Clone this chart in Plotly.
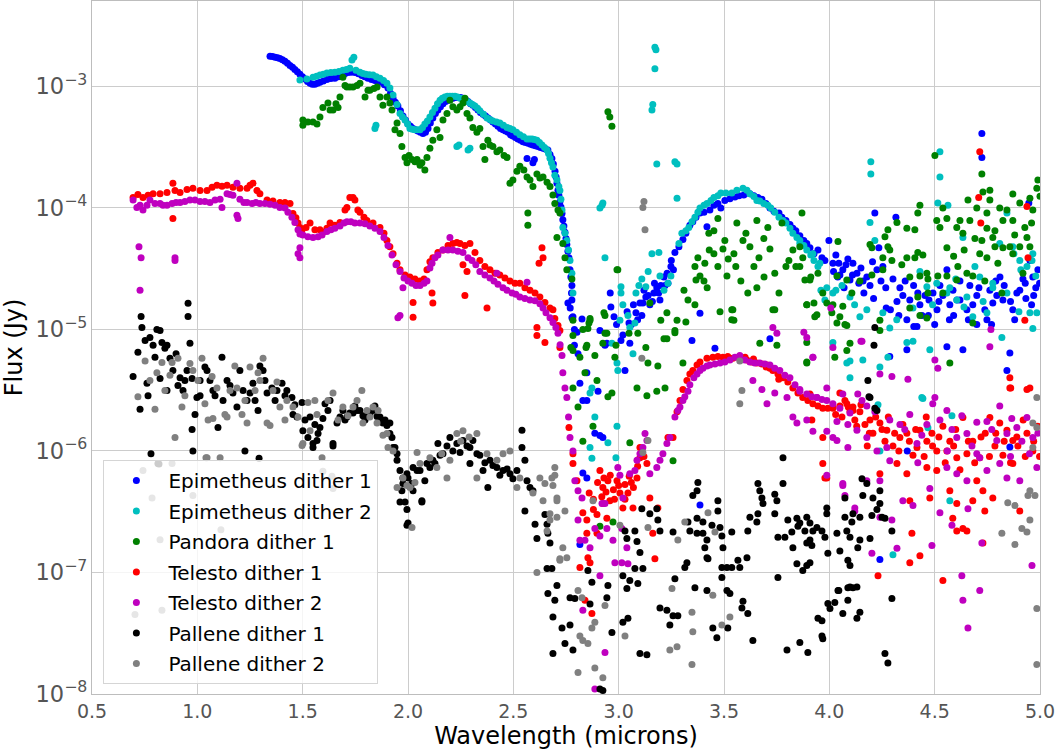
import plotly.graph_objects as go

# Spectra of small Saturnian moons: (wavelength in microns, flux in Jy)

EPIMETHEUS_1 = [
    (1.345, 1.77e-3), (1.357, 1.76e-3), (1.369, 1.74e-3), (1.381, 1.72e-3), (1.392, 1.70e-3),
    (1.404, 1.66e-3), (1.416, 1.61e-3), (1.428, 1.55e-3), (1.440, 1.49e-3), (1.452, 1.44e-3),
    (1.463, 1.38e-3), (1.475, 1.32e-3), (1.487, 1.26e-3), (1.499, 1.20e-3), (1.511, 1.15e-3),
    (1.523, 1.10e-3), (1.535, 1.06e-3), (1.546, 1.04e-3), (1.558, 1.04e-3), (1.570, 1.06e-3),
    (1.582, 1.08e-3), (1.598, 1.11e-3), (1.615, 1.14e-3), (1.634, 1.16e-3), (1.653, 1.17e-3),
    (1.670, 1.20e-3), (1.687, 1.23e-3), (1.700, 1.27e-3), (1.715, 1.30e-3), (1.730, 1.31e-3),
    (1.748, 1.30e-3), (1.765, 1.27e-3), (1.781, 1.23e-3), (1.795, 1.20e-3), (1.810, 1.17e-3),
    (1.827, 1.14e-3), (1.843, 1.12e-3), (1.857, 1.10e-3), (1.872, 1.08e-3), (1.888, 1.03e-3),
    (1.905, 0.97e-3), (1.917, 0.88e-3), (1.929, 0.80e-3), (1.940, 0.74e-3), (1.952, 0.69e-3),
    (1.964, 0.63e-3), (1.976, 0.57e-3), (1.988, 0.53e-3), (2.000, 0.49e-3), (2.012, 0.47e-3),
    (2.024, 0.45e-3), (2.035, 0.44e-3), (2.047, 0.43e-3), (2.059, 0.42e-3), (2.071, 0.41e-3),
    (2.083, 0.42e-3), (2.095, 0.45e-3), (2.106, 0.50e-3), (2.118, 0.55e-3), (2.130, 0.60e-3),
    (2.142, 0.64e-3), (2.154, 0.68e-3), (2.166, 0.72e-3), (2.178, 0.75e-3), (2.190, 0.77e-3),
    (2.201, 0.79e-3), (2.213, 0.80e-3), (2.225, 0.81e-3), (2.237, 0.81e-3), (2.249, 0.81e-3),
    (2.261, 0.80e-3), (2.273, 0.78e-3), (2.285, 0.75e-3), (2.297, 0.72e-3), (2.308, 0.70e-3),
    (2.320, 0.67e-3), (2.332, 0.64e-3), (2.344, 0.61e-3), (2.356, 0.59e-3), (2.368, 0.57e-3),
    (2.380, 0.55e-3), (2.392, 0.53e-3), (2.403, 0.51e-3), (2.415, 0.49e-3), (2.427, 0.47e-3),
    (2.439, 0.45e-3), (2.451, 0.44e-3), (2.463, 0.43e-3), (2.475, 0.42e-3), (2.487, 0.40e-3),
    (2.498, 0.39e-3), (2.510, 0.38e-3), (2.522, 0.37e-3), (2.534, 0.36e-3), (2.546, 0.35e-3),
    (2.558, 0.345e-3), (2.570, 0.34e-3), (2.582, 0.335e-3), (2.593, 0.33e-3), (2.605, 0.325e-3),
    (2.617, 0.32e-3), (2.629, 0.315e-3), (2.641, 0.31e-3), (2.652, 0.305e-3), (2.664, 0.30e-3),
    (2.674, 0.275e-3), (2.683, 0.255e-3), (2.690, 0.23e-3), (2.698, 0.20e-3), (2.703, 0.18e-3),
    (2.707, 0.16e-3), (2.712, 0.14e-3), (2.716, 0.127e-3), (2.721, 0.112e-3), (2.726, 1.02e-4),
    (2.731, 9.0e-5), (2.735, 8.0e-5), (2.740, 7.1e-5), (2.745, 6.3e-5), (2.750, 5.6e-5),
    (2.754, 5.0e-5), (2.759, 4.4e-5), (2.764, 3.9e-5), (2.769, 3.1e-5), (2.773, 2.7e-5),
    (2.778, 2.3e-5), (2.776, 2.0e-5), (2.778, 1.75e-5), (2.770, 1.5e-5), (2.778, 1.25e-5),
    (2.783, 1.27e-5), (2.790, 1.0e-5), (2.802, 9.5e-6), (2.790, 7.4e-6), (2.807, 6.3e-6),
    (2.759, 1.65e-5), (2.826, 1.22e-5), (2.816, 3.6e-6), (2.849, 2.6e-6), (2.902, 3.1e-6),
    (2.849, 4.4e-6), (2.830, 2.6e-6), (2.911, 1.34e-6), (2.887, 1.4e-6), (2.925, 1.29e-6),
    (2.830, 6.6e-7), (2.816, 1.7e-7), (2.849, 6.0e-7),
    (2.565, 2.55e-4), (2.593, 2.35e-4), (2.600, 2.5e-4),
    (2.911, 9.8e-6), (2.935, 7.4e-6), (2.963, 1.53e-5), (2.978, 1.27e-5), (2.944, 7.7e-6),
    (3.011, 8.1e-6), (3.030, 4.6e-6), (3.049, 1.13e-5), (3.053, 7.7e-6), (3.082, 1.37e-5),
    (3.101, 1.65e-5), (3.115, 1.65e-5), (3.129, 1.85e-5), (3.148, 1.6e-5), (3.167, 2.0e-5),
    (3.181, 2.2e-5), (3.196, 1.75e-5), (3.215, 2.7e-5), (3.234, 2.4e-5), (3.248, 3.3e-5),
    (2.960, 2.0e-5), (2.990, 1.1e-5), (3.020, 9.0e-6), (3.040, 1.4e-5), (3.060, 1.1e-5),
    (3.070, 1.6e-5), (3.090, 1.2e-5), (3.110, 1.3e-5), (3.120, 2.1e-5), (3.140, 1.9e-5),
    (3.160, 1.7e-5), (3.170, 2.4e-5), (3.190, 2.0e-5), (3.200, 2.3e-5), (3.220, 2.3e-5),
    (3.230, 2.9e-5), (3.250, 3.7e-5), (3.260, 3.1e-5),
    (3.267, 4.3e-5), (3.286, 4.8e-5), (3.305, 5.5e-5), (3.319, 6.2e-5), (3.338, 7.2e-5),
    (3.352, 7.7e-5), (3.367, 8.4e-5), (3.386, 9.1e-5), (3.405, 9.2e-5), (3.419, 7.0e-5),
    (3.433, 9.6e-5), (3.452, 1.05e-4), (3.471, 1.09e-4), (3.485, 1.0e-4), (3.504, 1.15e-4),
    (3.528, 1.19e-4), (3.552, 1.23e-4), (3.571, 1.26e-4), (3.594, 1.28e-4), (3.623, 1.31e-4),
    (3.642, 1.26e-4), (3.661, 1.22e-4), (3.680, 1.18e-4), (3.699, 1.09e-4), (3.718, 1.0e-4),
    (3.737, 9.4e-5), (3.761, 9.1e-5), (3.775, 8.4e-5), (3.794, 7.9e-5), (3.813, 7.3e-5),
    (3.827, 6.8e-5), (3.841, 6.5e-5), (3.860, 5.9e-5), (3.879, 5.4e-5), (3.893, 5.1e-5),
    (3.908, 4.7e-5), (3.927, 4.2e-5), (3.946, 4.5e-5), (3.965, 3.9e-5), (3.979, 3.7e-5),
    (3.998, 5.4e-5), (4.017, 3.5e-5), (4.031, 4.1e-5), (4.045, 3.5e-5), (4.064, 3.1e-5),
    (4.079, 3.4e-5), (4.098, 2.55e-5), (4.112, 3.5e-5), (4.131, 2.9e-5), (4.150, 3.2e-5),
    (4.164, 2.0e-5), (4.178, 2.7e-5), (4.193, 2.3e-5), (4.216, 9.1e-5), (4.226, 3.1e-5),
    (4.235, 4.7e-5), (4.254, 3.3e-5), (4.268, 2.2e-5), (4.287, 6.0e-6), (4.302, 2.6e-5),
    (4.316, 8.4e-5), (4.321, 1.7e-5), (4.335, 2.2e-5), (4.349, 1.9e-5), (4.368, 1.2e-5),
    (4.368, 6.8e-6), (4.382, 1.75e-5), (4.401, 1.06e-5), (4.416, 1.06e-5), (4.430, 1.6e-5),
    (4.454, 1.9e-5), (4.473, 1.75e-5), (4.492, 2.0e-5), (4.511, 1.45e-5), (4.525, 2.3e-5),
    (4.539, 1.9e-5), (4.558, 3.1e-5), (4.558, 7.2e-6), (4.572, 1.6e-5), (4.587, 2.1e-5),
    (4.606, 1.75e-5), (4.620, 1.75e-5), (4.634, 6.8e-6), (4.653, 1.45e-5), (4.667, 2.3e-5),
    (4.681, 1.6e-5), (4.700, 1.9e-5), (4.724, 4.1e-4), (4.724, 2.6e-4), (4.738, 1.45e-5),
    (4.748, 1.2e-5), (4.762, 2.1e-5), (4.776, 1.65e-5), (4.795, 1.9e-5), (4.810, 2.7e-5),
    (4.824, 1.75e-5), (4.843, 4.6e-6), (4.857, 6.4e-6), (4.871, 1.45e-5), (4.890, 2.0e-5),
    (4.904, 2.1e-5), (4.919, 2.6e-5), (4.933, 1.8e-5), (4.947, 1.1e-4), (4.952, 3.7e-5),
    (4.966, 2.7e-5), (4.980, 2.2e-5), (4.990, 3.1e-5),
    (3.348, 8.1e-6), (3.457, 7.0e-6), (3.718, 8.4e-6), (3.386, 1.36e-5), (3.386, 3.6e-7),
    (4.240, 1.28e-7), (4.370, 1.0e-6), (4.857, 1.08e-6),
    (4.050, 2.8e-5), (4.088, 3.8e-5), (4.140, 2.4e-5), (4.205, 3.6e-5), (4.245, 2.5e-5),
    (4.290, 1.45e-5), (4.400, 2.3e-5), (4.440, 1.3e-5), (4.500, 1.1e-5), (4.590, 1.3e-5),
    (4.700, 1.1e-5), (4.790, 2.5e-5), (4.880, 1.2e-5), (4.960, 1.6e-5),
    (4.020, 3.0e-5), (4.040, 2.7e-5), (4.070, 2.2e-5), (4.110, 2.8e-5), (4.160, 2.5e-5),
    (4.210, 1.8e-5), (4.270, 1.5e-5), (4.330, 1.3e-5), (4.360, 2.5e-5), (4.420, 2.0e-5),
    (4.470, 1.3e-5), (4.520, 1.7e-5), (4.570, 1.2e-5), (4.620, 2.5e-5), (4.660, 1.2e-5),
    (4.710, 2.2e-5), (4.770, 1.1e-5), (4.830, 2.3e-5), (4.860, 1.7e-5), (4.930, 2.4e-5),
    (4.970, 1.9e-5), (4.998, 2.4e-5),
]

EPIMETHEUS_2 = [
    (1.487, 1.13e-3), (1.520, 1.15e-3), (1.549, 1.19e-3), (1.566, 1.21e-3), (1.582, 1.24e-3),
    (1.598, 1.26e-3), (1.615, 1.29e-3), (1.634, 1.30e-3), (1.653, 1.31e-3), (1.672, 1.33e-3),
    (1.691, 1.36e-3), (1.708, 1.38e-3), (1.724, 1.41e-3), (1.734, 1.65e-3), (1.743, 1.74e-3),
    (1.753, 1.36e-3), (1.772, 1.31e-3), (1.786, 1.28e-3), (1.800, 1.26e-3), (1.817, 1.25e-3),
    (1.834, 1.24e-3), (1.850, 1.20e-3), (1.867, 1.17e-3), (1.884, 1.12e-3), (1.900, 1.06e-3),
    (1.914, 0.97e-3), (1.929, 0.85e-3), (1.948, 0.71e-3), (1.962, 0.60e-3), (1.974, 0.56e-3),
    (1.986, 0.53e-3), (1.998, 0.49e-3), (2.009, 0.45e-3), (2.021, 0.445e-3), (2.033, 0.44e-3),
    (2.045, 0.44e-3), (2.057, 0.44e-3), (2.069, 0.46e-3), (2.080, 0.49e-3), (2.092, 0.52e-3),
    (2.104, 0.56e-3), (2.116, 0.61e-3), (2.128, 0.66e-3), (2.140, 0.72e-3), (2.152, 0.77e-3),
    (2.163, 0.80e-3), (2.175, 0.82e-3), (2.187, 0.83e-3), (2.199, 0.83e-3), (2.211, 0.83e-3),
    (2.223, 0.83e-3), (2.235, 0.82e-3), (2.247, 0.80e-3), (2.258, 0.79e-3), (2.270, 0.77e-3),
    (2.282, 0.75e-3), (2.294, 0.73e-3), (2.306, 0.71e-3), (2.318, 0.69e-3), (2.330, 0.66e-3),
    (2.341, 0.63e-3), (2.358, 0.59e-3), (2.375, 0.55e-3), (2.389, 0.535e-3), (2.403, 0.52e-3),
    (2.420, 0.51e-3), (2.436, 0.50e-3), (2.453, 0.48e-3), (2.470, 0.46e-3), (2.484, 0.45e-3),
    (2.498, 0.44e-3), (2.515, 0.42e-3), (2.531, 0.40e-3), (2.548, 0.385e-3), (2.565, 0.37e-3),
    (2.577, 0.37e-3), (2.589, 0.37e-3), (2.600, 0.365e-3), (2.612, 0.36e-3), (2.624, 0.345e-3),
    (2.636, 0.33e-3), (2.648, 0.315e-3), (2.660, 0.30e-3), (2.667, 0.28e-3), (2.674, 0.256e-3),
    (2.681, 0.235e-3), (2.688, 0.217e-3), (2.697, 0.186e-3), (2.707, 0.17e-3), (2.716, 0.15e-3),
    (2.721, 0.139e-3), (2.726, 0.118e-3), (2.731, 0.96e-4), (2.735, 6.9e-5), (2.745, 6.2e-5),
    (2.754, 5.4e-5), (2.762, 4.5e-5), (2.769, 3.7e-5), (2.778, 2.9e-5), (2.783, 2.0e-5),
    (1.843, 0.45e-3), (1.848, 0.48e-3), (2.232, 0.32e-3), (2.242, 0.33e-3), (2.285, 0.30e-3),
    (2.294, 0.31e-3), (2.921, 1.05e-4), (2.911, 1.0e-4), (2.925, 1.1e-4), (2.935, 3.9e-5),
    (3.172, 2.1e-3), (3.177, 2.0e-3), (3.172, 1.4e-3), (3.162, 0.71e-3), (3.158, 0.64e-3),
    (3.181, 0.23e-3), (3.267, 0.24e-3), (3.277, 0.23e-3), (3.277, 1.2e-4), (4.197, 0.24e-3),
    (4.197, 0.19e-3), (4.525, 0.29e-3), (4.525, 0.18e-3),
    (2.864, 3.0e-6), (2.873, 3.3e-6), (2.887, 1.9e-6), (2.992, 5.3e-6), (2.996, 4.6e-6),
    (3.068, 6.3e-6), (3.053, 1.04e-5), (2.992, 1.6e-6), (2.949, 1.17e-6), (2.864, 1.07e-6),
    (2.873, 8.7e-7), (2.987, 8.8e-7), (2.968, 7.7e-6), (3.006, 1.19e-5), (3.044, 1.3e-5),
    (3.077, 1.13e-5), (3.011, 2.25e-5), (3.011, 2.0e-5), (3.020, 1.6e-5), (3.082, 2.0e-5),
    (3.096, 2.3e-5), (3.129, 2.25e-5), (3.158, 4.2e-5), (3.191, 4.3e-5), (3.196, 2.75e-5),
    (3.215, 2.1e-5), (3.234, 2.4e-5), (3.248, 2.75e-5), (3.110, 2.6e-5), (3.140, 3.0e-5),
    (3.286, 5.1e-5), (3.300, 6.2e-5), (3.319, 6.5e-5), (3.333, 6.9e-5), (3.348, 7.7e-5),
    (3.362, 8.4e-5), (3.376, 9.2e-5), (3.386, 1.0e-4), (3.405, 1.05e-4), (3.419, 1.09e-4),
    (3.438, 1.15e-4), (3.452, 1.22e-4), (3.471, 1.26e-4), (3.485, 1.33e-4), (3.509, 1.33e-4),
    (3.537, 1.33e-4), (3.561, 1.40e-4), (3.590, 1.45e-4), (3.609, 1.40e-4), (3.623, 1.31e-4),
    (3.642, 1.24e-4), (3.656, 1.15e-4), (3.670, 1.14e-4), (3.689, 1.09e-4), (3.708, 1.05e-4),
    (3.722, 1.0e-4), (3.741, 9.2e-5), (3.761, 8.4e-5), (3.780, 7.9e-5), (3.794, 7.5e-5),
    (3.813, 6.8e-5), (3.827, 6.2e-5), (3.846, 5.7e-5), (3.860, 5.4e-5), (3.879, 4.9e-5),
    (3.893, 4.5e-5), (3.912, 4.1e-5), (3.927, 3.7e-5), (3.946, 3.3e-5), (3.960, 2.1e-5),
    (3.979, 1.75e-5), (4.031, 2.1e-5), (3.860, 5.1e-5), (3.922, 4.2e-5), (3.955, 3.5e-5),
    (3.988, 2.2e-5), (4.017, 2.0e-5), (4.098, 1.85e-5), (4.145, 1.27e-5), (4.178, 1.45e-5),
    (4.254, 1.37e-5), (4.287, 1.03e-5), (4.397, 1.5e-5), (4.430, 3.0e-5), (4.463, 2.25e-5),
    (4.510, 2.4e-5), (4.558, 2.0e-5), (4.605, 1.75e-5), (4.653, 1.85e-5), (4.681, 1.27e-5),
    (4.714, 2.7e-5), (4.748, 1.37e-5), (4.776, 2.4e-5), (4.809, 5.1e-5), (4.843, 9.1e-5),
    (4.871, 4.8e-5), (4.904, 3.7e-5), (4.938, 3.3e-5), (4.966, 4.2e-5), (4.985, 1.37e-5),
    (4.952, 1.37e-5), (4.966, 1.02e-5), (4.819, 8.6e-6), (4.634, 5.7e-5), (4.098, 5.5e-6),
    (4.098, 4.0e-6), (4.368, 7.8e-6), (4.397, 8.0e-6), (4.477, 6.8e-6), (4.444, 2.7e-6),
    (4.240, 4.9e-6), (4.278, 5.9e-6), (4.017, 7.8e-6), (4.159, 5.6e-6), (4.515, 1.1e-4),
    (4.563, 1.05e-4), (4.193, 7.6e-5), (4.216, 5.4e-5), (4.083, 5.3e-6), (4.439, 2.75e-6),
    (4.231, 2.4e-6), (4.582, 1.95e-6), (4.468, 1.55e-6), (4.240, 1.0e-6), (4.572, 3.9e-7),
    (4.302, 1.4e-7), (4.572, 2.2e-5), (4.639, 1.53e-5), (4.691, 3.3e-5), (4.776, 2.2e-5),
    (4.843, 2.0e-5), (4.876, 4.2e-5), (4.909, 3.1e-5), (4.962, 3.7e-5), (4.980, 2.75e-5),
    (4.060, 2.3e-5), (4.120, 1.6e-5), (4.320, 1.2e-5), (4.490, 1.6e-5), (4.600, 2.6e-5),
    (4.730, 1.7e-5), (4.900, 1.4e-5),
]

PANDORA_1 = [
    (1.501, 0.53e-3), (1.501, 0.48e-3), (1.525, 0.51e-3), (1.549, 0.51e-3), (1.568, 0.49e-3),
    (1.582, 0.56e-3), (1.596, 0.67e-3), (1.620, 0.73e-3), (1.630, 0.64e-3), (1.644, 0.64e-3),
    (1.658, 0.72e-3), (1.668, 0.67e-3), (1.677, 0.82e-3), (1.691, 1.19e-3), (1.701, 1.02e-3),
    (1.710, 0.99e-3), (1.724, 0.99e-3), (1.739, 0.99e-3), (1.758, 1.02e-3), (1.772, 1.06e-3),
    (1.796, 0.82e-3), (1.810, 0.93e-3), (1.819, 0.93e-3), (1.838, 0.96e-3), (1.853, 0.99e-3),
    (1.867, 0.82e-3), (1.881, 0.70e-3), (1.900, 0.82e-3), (1.914, 0.73e-3), (1.924, 0.64e-3),
    (1.938, 0.44e-3), (1.948, 0.50e-3), (1.962, 0.41e-3), (1.971, 0.32e-3), (1.986, 0.26e-3),
    (1.995, 0.235e-3), (2.005, 0.27e-3), (2.019, 0.25e-3), (2.033, 0.24e-3), (2.043, 0.25e-3),
    (2.057, 0.225e-3), (2.066, 0.235e-3), (2.080, 0.205e-3), (2.090, 0.26e-3), (2.104, 0.31e-3),
    (2.118, 0.36e-3), (2.137, 0.44e-3), (2.152, 0.38e-3), (2.166, 0.53e-3), (2.185, 0.60e-3),
    (2.199, 0.77e-3), (2.213, 0.68e-3), (2.232, 0.64e-3), (2.247, 0.68e-3), (2.261, 0.73e-3),
    (2.270, 0.80e-3), (2.280, 0.60e-3), (2.294, 0.55e-3), (2.308, 0.46e-3), (2.327, 0.42e-3),
    (2.341, 0.45e-3), (2.356, 0.32e-3), (2.365, 0.25e-3), (2.379, 0.36e-3), (2.389, 0.33e-3),
    (2.403, 0.32e-3), (2.422, 0.29e-3), (2.436, 0.30e-3), (2.456, 0.27e-3), (2.470, 0.26e-3),
    (2.484, 0.16e-3), (2.498, 0.17e-3), (2.517, 0.20e-3), (2.531, 0.22e-3), (2.550, 0.205e-3),
    (2.565, 0.18e-3), (2.579, 0.17e-3), (2.593, 0.15e-3), (2.612, 0.19e-3), (2.626, 0.176e-3),
    (2.641, 0.18e-3), (2.660, 0.163e-3), (2.674, 0.15e-3), (2.688, 0.128e-3), (2.697, 0.109e-3),
    (2.712, 0.96e-4), (2.721, 0.91e-4), (2.569, 0.91e-4), (2.569, 7.2e-5), (2.707, 5.7e-5),
    (2.735, 5.1e-5), (2.745, 3.9e-5), (2.754, 3.1e-5), (2.778, 2.6e-5), (2.783, 1.19e-5),
    (2.830, 1.0e-5), (2.864, 1.19e-5), (2.949, 0.62e-3), (2.958, 0.56e-3), (2.968, 0.47e-3),
    (2.992, 3.1e-5),
    (2.864, 1.23e-5), (2.935, 1.3e-5), (2.944, 9.3e-6), (2.925, 7.7e-6), (2.849, 7.4e-6),
    (2.783, 8.9e-6), (2.783, 6.7e-6), (2.816, 5.9e-6), (2.887, 6.1e-6), (2.982, 5.9e-6),
    (2.840, 4.4e-6), (2.897, 3.8e-6), (2.968, 3.0e-6), (2.949, 2.8e-6), (2.783, 3.3e-6),
    (2.807, 2.3e-6), (2.878, 1.6e-6), (2.830, 1.2e-6), (3.148, 1.65e-5), (3.091, 9.3e-6),
    (3.139, 5.3e-6), (3.186, 5.0e-6), (3.229, 1.37e-5), (3.267, 9.4e-6), (3.229, 8.4e-6),
    (3.220, 3.3e-6), (3.181, 3.1e-6), (3.134, 2.85e-6), (3.087, 3.3e-6), (3.053, 1.17e-6),
    (3.305, 5.3e-6), (3.258, 8.3e-7), (2.973, 2.6e-7), (2.911, 2.4e-7), (3.537, 1.2e-5),
    (3.542, 1.45e-5), (3.741, 1.45e-5), (3.670, 7.7e-6), (3.751, 7.4e-6), (3.893, 5.3e-6),
    (3.893, 1.6e-5), (3.988, 1.65e-5), (3.941, 1.32e-5), (4.074, 1.1e-5), (4.098, 7.7e-6),
    (4.083, 6.7e-6), (4.012, 1.37e-5),
    (2.996, 3.1e-5), (2.930, 1.37e-5), (2.859, 1.13e-5), (2.854, 1.02e-5), (2.773, 7.1e-6),
    (2.845, 7.1e-6), (2.935, 9.3e-6), (2.987, 7.4e-6), (3.049, 9.3e-6), (3.129, 7.1e-6),
    (3.215, 8.4e-6), (3.267, 9.8e-6), (3.277, 1.19e-5), (3.319, 1.15e-5), (3.200, 1.19e-5),
    (3.310, 2.1e-5), (3.329, 1.75e-5), (3.362, 1.6e-5), (3.362, 3.3e-5), (3.376, 3.9e-5),
    (3.386, 2.75e-5), (3.405, 2.5e-5), (3.409, 3.5e-5), (3.428, 6.2e-5), (3.452, 6.5e-5),
    (3.471, 8.2e-5), (3.452, 4.2e-5), (3.471, 3.3e-5), (3.495, 4.6e-5), (3.504, 5.4e-5),
    (3.514, 2.75e-5), (3.547, 4.2e-5), (3.556, 3.3e-5), (3.561, 7.5e-5), (3.590, 5.4e-5),
    (3.604, 6.2e-5), (3.623, 4.8e-5), (3.642, 3.3e-5), (3.656, 7.9e-5), (3.666, 3.9e-5),
    (3.689, 5.6e-5), (3.708, 6.9e-5), (3.718, 4.6e-5), (3.732, 1.45e-5), (3.741, 2.9e-5),
    (3.761, 2.0e-5), (3.775, 7.5e-5), (3.794, 3.3e-5), (3.808, 3.7e-5), (3.827, 4.5e-5),
    (3.841, 3.3e-5), (3.860, 4.8e-5), (3.870, 9.1e-5), (3.884, 2.55e-5), (3.912, 2.7e-5),
    (3.927, 1.65e-5), (3.946, 2.9e-5), (3.613, 2.0e-5), (3.656, 2.2e-5), (3.537, 1.45e-5),
    (3.547, 1.19e-5), (3.481, 1.4e-5), (3.367, 2.55e-5), (3.420, 2.2e-5), (3.580, 2.5e-5),
    (3.690, 2.7e-5), (3.520, 3.8e-5), (3.430, 4.5e-5),
    (4.501, 0.27e-3), (4.724, 0.19e-3), (4.729, 0.135e-3), (4.762, 0.14e-3), (4.658, 1.16e-4),
    (4.700, 1.0e-4), (4.762, 1.16e-4), (4.871, 1.3e-4), (4.904, 1.1e-4), (4.985, 1.45e-4),
    (4.952, 1.2e-4), (4.966, 9.6e-5), (4.843, 9.6e-5), (4.809, 1.0e-4), (4.748, 9.1e-5),
    (4.824, 7.9e-5), (4.786, 6.5e-5), (4.871, 7.9e-5), (4.928, 6.9e-5), (4.748, 6.8e-5),
    (4.776, 5.7e-5), (4.724, 5.4e-5), (4.691, 5.6e-5), (4.634, 6.2e-5), (4.667, 7.9e-5),
    (4.620, 7.9e-5), (4.605, 6.9e-5), (4.558, 8.2e-5), (4.510, 7.9e-5), (4.525, 6.9e-5),
    (4.539, 1.0e-4), (4.430, 1.05e-4), (4.420, 9.1e-5), (4.321, 7.6e-5), (4.278, 6.6e-5),
    (4.368, 6.8e-5), (4.406, 6.6e-5), (4.264, 5.8e-5), (4.278, 4.8e-5), (4.193, 5.0e-5),
    (4.202, 4.7e-5), (4.287, 4.5e-5), (4.420, 4.3e-5), (4.444, 4.1e-5), (4.406, 3.9e-5),
    (4.344, 3.4e-5), (4.297, 3.7e-5), (4.254, 3.9e-5), (4.254, 3.1e-5), (4.368, 3.9e-5),
    (4.558, 4.7e-5), (4.610, 3.3e-5), (4.558, 2.75e-5), (4.515, 2.75e-5), (4.468, 2.6e-5),
    (4.463, 2.9e-5), (4.430, 2.75e-5), (4.382, 2.7e-5), (4.420, 1.85e-5), (4.468, 2.0e-5),
    (4.382, 1.5e-5), (4.430, 1.3e-5), (4.463, 1.24e-5), (4.539, 2.0e-5), (4.605, 2.55e-5),
    (4.653, 2.9e-5), (4.681, 2.75e-5), (4.738, 2.5e-5), (4.748, 3.9e-5), (4.714, 4.2e-5),
    (4.786, 4.8e-5), (4.824, 4.7e-5), (4.857, 4.8e-5), (4.904, 4.8e-5), (4.952, 4.8e-5),
    (4.938, 5.7e-5), (4.871, 4.2e-5), (4.919, 2.9e-5), (4.819, 2.0e-5), (4.681, 1.13e-5),
    (4.572, 5.3e-6), (4.240, 9.8e-6), (4.240, 1.19e-5), (4.202, 2.8e-5), (4.145, 2.5e-5),
    (4.083, 2.55e-5), (4.036, 2.75e-5), (4.041, 5.3e-5), (3.908, 2.55e-5), (3.893, 1.6e-5),
    (3.931, 1.27e-5), (3.969, 2.0e-5), (4.017, 1.6e-5), (4.064, 1.55e-5), (4.107, 2.0e-5),
    (4.050, 1.27e-5), (4.036, 1.13e-5), (4.083, 1.08e-5), (4.026, 5.9e-6), (3.893, 5.4e-6),
    (3.893, 7.8e-6), (3.860, 3.3e-5), (3.874, 3.9e-5), (4.990, 1.7e-4), (5.000, 1.25e-4),
    (4.590, 4.0e-5), (4.640, 4.5e-5), (4.880, 6.0e-5), (4.960, 7.5e-5), (4.800, 3.5e-5),
]

TELESTO_1 = [
    (0.695, 1.22e-4), (0.718, 1.29e-4), (0.742, 1.22e-4), (0.766, 1.27e-4), (0.790, 1.31e-4),
    (0.823, 1.31e-4), (0.856, 1.34e-4), (0.884, 1.60e-4), (0.884, 8.2e-5), (0.894, 1.39e-4),
    (0.918, 1.34e-4), (0.951, 1.42e-4), (0.979, 1.45e-4), (1.013, 1.39e-4), (1.046, 1.39e-4),
    (1.070, 1.48e-4), (1.093, 1.54e-4), (1.117, 1.51e-4), (1.141, 1.54e-4), (1.169, 1.48e-4),
    (1.202, 1.45e-4), (1.236, 1.45e-4), (1.250, 1.54e-4), (1.264, 1.60e-4), (1.283, 1.39e-4),
    (1.297, 1.31e-4), (1.331, 1.16e-4), (1.359, 1.14e-4), (1.392, 1.11e-4), (1.416, 1.11e-4),
    (1.440, 1.09e-4), (1.454, 0.90e-4), (1.468, 0.83e-4), (1.478, 0.75e-4), (1.487, 0.69e-4),
    (1.497, 0.66e-4), (1.516, 0.69e-4), (1.535, 0.75e-4), (1.558, 0.66e-4), (1.582, 0.66e-4),
    (1.596, 0.63e-4), (1.615, 0.68e-4), (1.630, 0.75e-4), (1.653, 0.72e-4), (1.677, 0.76e-4),
    (1.701, 0.96e-4), (1.710, 1.01e-4), (1.724, 1.22e-4), (1.739, 1.22e-4), (1.748, 1.16e-4),
    (1.762, 0.96e-4), (1.772, 0.92e-4), (1.791, 0.84e-4), (1.805, 0.79e-4), (1.834, 0.75e-4),
    (1.867, 0.69e-4), (1.886, 0.62e-4), (1.900, 0.54e-4), (1.914, 0.48e-4), (1.929, 0.42e-4),
    (1.948, 0.35e-4), (1.962, 0.31e-4), (1.986, 0.28e-4), (2.009, 0.27e-4), (2.033, 0.26e-4),
    (2.057, 0.25e-4), (2.076, 0.26e-4), (2.090, 0.31e-4), (2.104, 0.36e-4), (2.118, 0.39e-4),
    (2.142, 0.43e-4), (2.166, 0.45e-4), (2.190, 0.49e-4), (2.213, 0.51e-4), (2.232, 0.52e-4),
    (2.247, 0.51e-4), (2.270, 0.49e-4), (2.294, 0.51e-4), (2.318, 0.43e-4), (2.341, 0.37e-4),
    (2.365, 0.33e-4), (2.389, 0.31e-4), (2.413, 0.29e-4), (2.436, 0.28e-4), (2.460, 0.265e-4),
    (2.484, 0.25e-4), (2.508, 0.24e-4), (2.531, 0.24e-4), (2.555, 0.22e-4), (2.579, 0.21e-4),
    (2.603, 0.20e-4), (2.626, 0.185e-4), (2.650, 0.167e-4), (2.674, 0.15e-4), (2.688, 0.145e-4),
    (2.697, 0.123e-4), (2.712, 0.108e-4), (2.721, 0.98e-5),
    (2.636, 0.47e-4), (2.641, 0.39e-4), (2.622, 0.35e-4), (2.612, 1.04e-5), (2.612, 8.9e-6),
    (2.270, 1.9e-5), (2.375, 1.5e-5), (2.114, 2.0e-5), (2.118, 1.65e-5), (2.024, 1.67e-5),
    (2.024, 1.26e-5), (2.261, 3.4e-5), (2.280, 3.0e-5), (2.650, 7.8e-6), (2.721, 7.1e-6),
    (2.764, 1.56e-6), (2.783, 9.5e-7), (2.783, 7.9e-7), (2.802, 5.7e-7), (2.830, 3.1e-7),
    (2.849, 2.7e-7), (2.849, 2.1e-7), (2.854, 1.32e-7), (2.864, 1.2e-7), (2.816, 1.1e-7),
    (2.840, 5.9e-8), (2.873, 4.6e-8), (2.897, 3.0e-7), (2.911, 6.9e-7), (2.925, 5.0e-7),
    (2.949, 5.7e-7), (2.958, 3.9e-7), (2.992, 5.7e-7), (3.006, 4.5e-7), (3.020, 3.4e-7),
    (3.044, 4.5e-7), (3.068, 3.4e-7), (3.087, 6.0e-7), (3.101, 1.07e-6), (3.101, 8.8e-7),
    (3.134, 7.9e-7), (3.148, 4.1e-7), (3.162, 2.1e-7), (3.172, 1.3e-7), (2.925, 3.7e-7),
    (2.944, 2.8e-7), (2.897, 2.1e-7), (3.186, 3.4e-7), (3.234, 1.29e-6), (3.258, 1.29e-6),
    (2.930, 6.0e-7), (2.975, 4.8e-7), (3.030, 5.3e-7), (3.060, 5.5e-7), (2.880, 4.0e-7),
    (2.860, 4.5e-7), (2.880, 3.3e-7), (2.900, 5.5e-7), (2.920, 4.2e-7), (2.940, 4.6e-7),
    (2.960, 6.3e-7), (2.980, 4.0e-7), (3.000, 5.2e-7), (3.030, 4.0e-7), (3.050, 6.2e-7),
    (3.070, 5.0e-7), (3.090, 7.5e-7), (3.120, 9.0e-7),
    (3.277, 2.1e-6), (3.291, 2.6e-6), (3.305, 3.2e-6), (3.324, 3.8e-6), (3.338, 4.3e-6),
    (3.352, 4.6e-6), (3.372, 5.1e-6), (3.386, 5.4e-6), (3.419, 5.8e-6), (3.447, 5.9e-6),
    (3.471, 6.0e-6), (3.495, 5.9e-6), (3.518, 6.0e-6), (3.542, 5.8e-6), (3.575, 5.7e-6),
    (3.609, 5.6e-6), (3.632, 5.4e-6), (3.656, 5.3e-6), (3.680, 5.2e-6), (3.704, 5.1e-6),
    (3.718, 4.8e-6), (3.732, 4.6e-6), (3.756, 4.3e-6), (3.780, 4.0e-6), (3.803, 3.7e-6),
    (3.827, 3.3e-6), (3.851, 3.0e-6), (3.874, 2.75e-6), (3.898, 2.6e-6), (3.922, 2.45e-6),
    (3.946, 2.35e-6), (3.969, 2.25e-6), (3.993, 2.25e-6), (4.017, 2.25e-6), (4.050, 2.35e-6),
    (4.083, 2.45e-6), (4.112, 2.15e-6), (3.917, 1.8e-6), (3.969, 1.29e-6), (3.969, 7.9e-7),
    (3.979, 6.0e-7), (3.600, 5.9e-6), (3.640, 5.7e-6), (3.700, 4.9e-6), (3.760, 3.9e-6),
    (3.908, 2.95e-6), (4.017, 2.3e-6), (4.112, 2.3e-6), (4.145, 2.1e-6), (4.207, 1.4e-6),
    (4.273, 1.48e-6), (4.335, 1.29e-6), (4.368, 1.4e-6), (4.416, 1.07e-6), (4.463, 1.2e-6),
    (4.487, 1.4e-6), (4.510, 1.0e-6), (4.558, 1.0e-6), (4.605, 8.8e-7), (4.634, 1.89e-6),
    (4.653, 9.5e-7), (4.714, 8.8e-7), (4.762, 1.89e-6), (4.809, 1.7e-6), (4.843, 1.48e-6),
    (4.871, 1.22e-6), (4.938, 1.4e-6), (4.966, 1.0e-6), (4.857, 3.3e-6), (4.938, 3.2e-6),
    (4.240, 6.5e-7), (4.321, 7.9e-7), (4.368, 6.5e-7), (4.382, 3.9e-7), (4.463, 7.3e-7),
    (4.477, 4.1e-7), (4.510, 6.9e-7), (4.572, 4.7e-7), (4.586, 2.8e-7), (4.605, 3.7e-7),
    (4.634, 2.3e-7), (4.653, 2.2e-7), (4.681, 3.9e-7), (4.729, 4.7e-7), (4.738, 3.2e-7),
    (4.776, 4.1e-7), (4.700, 5.7e-7), (4.871, 7.9e-7), (4.904, 3.2e-7), (3.988, 6.0e-7),
    (4.392, 2.1e-7), (4.430, 1.37e-7), (4.382, 1.2e-7), (4.539, 8.6e-8), (4.231, 9.4e-8),
    (4.605, 2.2e-7), (4.729, 1.75e-7),
    (4.050, 3.0e-6), (4.074, 2.6e-6), (4.098, 2.1e-6), (4.121, 1.8e-6), (4.169, 1.65e-6),
    (4.193, 1.8e-6), (4.240, 1.7e-6), (4.264, 1.2e-6), (4.302, 1.1e-6), (4.349, 1.65e-6),
    (4.397, 9.2e-7), (4.430, 1.48e-6), (4.539, 1.6e-6), (4.572, 1.2e-6), (4.681, 1.2e-6),
    (4.786, 1.1e-6), (4.824, 9.2e-7), (4.895, 1.1e-6), (4.990, 1.6e-6), (4.180, 1.1e-6),
    (4.280, 1.9e-6), (4.460, 1.9e-6), (4.600, 1.5e-6), (4.740, 1.4e-6), (4.920, 1.8e-6),
    (4.030, 2.0e-6), (4.060, 1.9e-6), (4.090, 2.3e-6), (4.130, 1.6e-6), (4.150, 2.4e-6),
    (4.190, 1.4e-6), (4.220, 1.9e-6), (4.250, 1.5e-6), (4.310, 1.4e-6), (4.330, 1.0e-6),
    (4.380, 1.2e-6), (4.410, 1.5e-6), (4.450, 9.0e-7), (4.490, 1.1e-6), (4.520, 1.3e-6),
    (4.550, 8.0e-7), (4.590, 1.1e-6), (4.620, 7.0e-7), (4.660, 1.2e-6), (4.690, 8.0e-7),
    (4.720, 1.3e-6), (4.760, 9.0e-7), (4.790, 1.4e-6), (4.830, 1.2e-6), (4.860, 8.0e-7),
    (4.890, 1.3e-6), (4.930, 9.0e-7), (4.970, 1.2e-6), (4.998, 9.0e-7),
    (4.714, 2.9e-4), (4.709, 1.22e-4), (4.719, 7.5e-5), (4.938, 1.03e-4), (4.943, 3.9e-5),
    (4.928, 1.19e-5), (4.857, 4.0e-6), (4.861, 3.3e-6), (4.952, 3.3e-6),
]

TELESTO_2 = [
    (0.695, 1.16e-4), (0.713, 1.01e-4), (0.728, 1.05e-4), (0.742, 0.96e-4), (0.761, 1.05e-4),
    (0.775, 1.16e-4), (0.799, 1.09e-4), (0.823, 1.09e-4), (0.837, 1.05e-4), (0.856, 1.05e-4),
    (0.880, 1.09e-4), (0.899, 1.11e-4), (0.918, 1.11e-4), (0.941, 1.13e-4), (0.965, 1.16e-4),
    (0.989, 1.16e-4), (1.013, 1.13e-4), (1.036, 1.13e-4), (1.060, 1.11e-4), (1.084, 1.16e-4),
    (1.108, 1.18e-4), (1.141, 1.31e-4), (1.155, 1.29e-4), (1.169, 1.27e-4), (1.188, 1.60e-4),
    (1.202, 1.18e-4), (1.221, 1.11e-4), (1.236, 1.11e-4), (1.260, 1.09e-4), (1.278, 1.11e-4),
    (1.297, 1.09e-4), (1.321, 1.09e-4), (1.345, 1.07e-4), (1.369, 1.05e-4), (1.392, 1.01e-4),
    (1.416, 1.0e-4), (1.430, 0.92e-4), (1.449, 0.84e-4), (1.463, 0.76e-4), (1.478, 0.66e-4),
    (1.487, 0.61e-4), (1.501, 0.60e-4), (1.525, 0.58e-4), (1.549, 0.57e-4), (1.573, 0.58e-4),
    (1.592, 0.60e-4), (1.615, 0.64e-4), (1.634, 0.66e-4), (1.653, 0.68e-4), (1.677, 0.71e-4),
    (1.696, 0.75e-4), (1.710, 0.77e-4), (1.729, 0.77e-4), (1.748, 0.75e-4), (1.772, 0.75e-4),
    (1.796, 0.74e-4), (1.819, 0.71e-4), (1.843, 0.68e-4), (1.867, 0.64e-4), (1.886, 0.57e-4),
    (1.905, 0.49e-4), (1.924, 0.41e-4), (1.943, 0.34e-4), (1.962, 0.30e-4), (1.981, 0.265e-4),
    (2.000, 0.25e-4), (2.019, 0.24e-4), (2.038, 0.23e-4), (2.057, 0.23e-4), (2.076, 0.24e-4),
    (2.090, 0.25e-4), (2.104, 0.32e-4), (2.114, 0.35e-4), (2.128, 0.39e-4), (2.142, 0.41e-4),
    (2.166, 0.45e-4), (2.190, 0.45e-4), (2.213, 0.45e-4), (2.237, 0.44e-4), (2.261, 0.43e-4),
    (2.285, 0.39e-4), (2.304, 0.37e-4), (2.322, 0.34e-4), (2.341, 0.30e-4), (2.365, 0.28e-4),
    (2.389, 0.265e-4), (2.408, 0.25e-4), (2.427, 0.235e-4), (2.451, 0.22e-4), (2.470, 0.21e-4),
    (2.494, 0.20e-4), (2.512, 0.195e-4), (2.531, 0.185e-4), (2.555, 0.18e-4), (2.579, 0.175e-4),
    (2.603, 0.172e-4), (2.626, 0.163e-4), (2.641, 0.15e-4), (2.655, 0.137e-4), (2.674, 0.125e-4),
    (2.688, 0.114e-4), (2.702, 0.104e-4), (2.712, 0.93e-5), (2.722, 7.5e-6), (2.731, 6.1e-6),
    (2.735, 4.4e-6), (2.745, 3.3e-6), (2.754, 2.75e-6), (2.762, 1.9e-6), (2.769, 1.29e-6),
    (2.783, 1.0e-6), (2.792, 5.7e-7), (2.807, 4.7e-7), (2.826, 4.1e-7), (2.807, 2.7e-7),
    (2.816, 1.84e-7), (2.840, 1.84e-7), (2.864, 1.6e-7), (2.887, 2.3e-7), (2.911, 2.0e-7),
    (2.921, 3.7e-7), (2.935, 3.7e-7), (2.944, 2.3e-7), (2.973, 1.84e-7), (2.982, 1.2e-7),
    (3.015, 1.2e-7), (3.044, 1.18e-7), (3.039, 1.6e-7), (3.015, 2.3e-7), (3.020, 4.1e-7),
    (2.996, 7.3e-7), (3.006, 6.3e-7), (3.053, 6.5e-7), (3.077, 6.9e-7), (3.087, 8.4e-7),
    (3.101, 9.5e-7), (3.115, 1.07e-6), (3.134, 1.22e-6), (3.125, 1.39e-6), (3.148, 6.5e-7),
    (3.181, 7.3e-7), (3.196, 8.4e-7), (3.210, 9.5e-7), (3.229, 1.15e-6), (3.243, 1.29e-6),
    (3.267, 1.9e-6), (3.281, 2.15e-6), (3.291, 2.3e-6), (3.305, 2.6e-6), (3.314, 2.8e-6),
    (3.329, 3.1e-6), (3.338, 3.5e-6), (3.357, 4.0e-6), (3.372, 4.3e-6), (3.386, 4.6e-6),
    (3.400, 4.8e-6), (3.419, 5.0e-6), (3.433, 5.1e-6), (3.457, 5.2e-6), (3.481, 5.3e-6),
    (3.504, 5.4e-6), (3.528, 5.6e-6), (3.552, 5.9e-6), (3.575, 6.1e-6), (3.599, 5.6e-6),
    (3.623, 5.4e-6), (3.646, 5.3e-6), (3.670, 5.3e-6), (3.694, 5.2e-6), (3.718, 5.1e-6),
    (3.741, 4.8e-6), (3.765, 4.6e-6), (3.789, 4.2e-6), (3.813, 4.0e-6), (3.837, 3.5e-6),
    (3.860, 3.1e-6), (3.893, 2.95e-6), (3.917, 2.8e-6), (3.941, 2.75e-6), (3.965, 2.65e-6),
    (3.988, 2.6e-6), (4.017, 2.45e-6), (4.050, 2.25e-6), (4.098, 2.05e-6),
    (3.637, 3.8e-6), (3.680, 3.2e-6), (3.704, 2.45e-6), (3.741, 3.0e-6), (3.799, 2.75e-6),
    (3.827, 1.9e-6), (3.846, 1.7e-6), (3.893, 1.8e-6), (3.922, 1.45e-6), (3.988, 1.45e-6),
    (4.017, 1.29e-6), (4.036, 1.22e-6), (4.088, 1.07e-6), (3.922, 5.9e-6), (3.893, 8.6e-6),
    (4.017, 7.1e-6), (3.988, 6.3e-7), (4.064, 5.4e-7), (4.074, 4.3e-7), (4.121, 3.2e-7),
    (3.732, 1.04e-5), (3.751, 9.3e-6), (2.911, 9.4e-8), (2.830, 4.9e-8), (2.935, 2.2e-8),
    (2.887, 1.1e-8), (4.007, 1.5e-5), (3.879, 9.5e-6), (4.150, 8.0e-6), (4.767, 1.0e-5),
    (4.762, 7.2e-6), (4.501, 5.6e-6), (4.515, 4.8e-6), (4.373, 3.9e-6), (4.297, 4.1e-6),
    (4.240, 4.3e-6), (4.155, 8.0e-6), (3.922, 5.9e-6),
    (0.723, 4.8e-5), (0.733, 3.9e-5), (0.728, 2.1e-5), (0.894, 3.9e-5), (0.894, 3.7e-5),
    (1.117, 1.01e-4), (1.188, 0.87e-4), (1.193, 0.82e-4), (1.478, 0.42e-4), (1.487, 0.39e-4),
    (1.487, 0.47e-4), (2.199, 0.57e-4), (2.422, 0.29e-4), (2.565, 0.245e-4), (1.976, 0.22e-4),
    (1.962, 0.13e-4), (1.952, 0.125e-4),
    (3.860, 3.2e-6), (3.941, 2.75e-6), (3.988, 3.3e-6), (4.064, 2.95e-6), (4.135, 2.95e-6),
    (4.178, 2.35e-6), (4.036, 1.75e-6), (4.088, 1.65e-6), (4.131, 1.48e-6), (4.178, 1.29e-6),
    (4.226, 1.0e-6), (4.273, 1.07e-6), (4.335, 1.65e-6), (4.382, 2.0e-6), (4.416, 1.15e-6),
    (4.463, 1.65e-6), (4.501, 2.75e-6), (4.491, 2.45e-6), (4.558, 2.15e-6), (4.605, 1.29e-6),
    (4.653, 1.39e-6), (4.700, 1.72e-6), (4.748, 1.75e-6), (4.795, 1.22e-6), (4.843, 1.39e-6),
    (4.890, 1.56e-6), (4.938, 1.89e-6), (4.966, 1.29e-6), (4.985, 7.3e-7), (4.714, 8.8e-7),
    (4.748, 6.9e-7), (4.809, 7.9e-7), (4.843, 6.0e-7), (4.904, 5.7e-7), (4.558, 7.3e-7),
    (4.605, 6.5e-7), (4.653, 5.7e-7), (4.477, 4.9e-7), (4.525, 3.1e-7), (4.582, 2.45e-7),
    (4.658, 3.35e-7), (4.724, 1.75e-7), (4.629, 9.4e-8), (4.714, 7.1e-8), (4.634, 5.9e-8),
    (4.658, 3.5e-8), (4.962, 1.14e-7), (4.487, 1.67e-7), (4.321, 1.58e-7), (4.202, 1.44e-7),
    (4.297, 2.7e-7), (4.240, 2.85e-7), (4.064, 5.2e-7), (4.121, 3.4e-7), (4.349, 3.9e-7),
    (4.397, 3.55e-7), (4.240, 5.7e-7), (4.178, 5.7e-7),
    (4.155, 2.6e-6), (4.216, 2.1e-6), (4.287, 1.8e-6), (4.358, 1.5e-6), (4.439, 1.35e-6),
    (4.525, 1.8e-6), (4.582, 1.5e-6), (4.629, 1.95e-6), (4.677, 1.1e-6), (4.771, 1.5e-6),
    (4.866, 1.85e-6), (4.914, 1.2e-6), (4.990, 1.4e-6), (4.287, 8.3e-7), (4.809, 2.35e-6),
    (4.420, 8.0e-7), (4.700, 9.5e-7), (4.860, 9.0e-7), (4.950, 9.5e-7), (4.560, 1.0e-6),
]

PALLENE_1 = [
    (0.695, 4.1e-6), (0.718, 6.5e-6), (0.733, 1.28e-5), (0.737, 1.04e-5), (0.752, 8.1e-6),
    (0.775, 8.6e-6), (0.808, 1.0e-5), (0.832, 7.8e-6), (0.856, 7.4e-6), (0.899, 6.3e-6),
    (0.799, 5.9e-6), (0.761, 3.6e-6), (0.728, 2.2e-6), (0.766, 2.85e-6), (0.823, 3.95e-6),
    (0.856, 3.15e-6), (0.884, 4.6e-6), (0.918, 4.0e-6), (0.951, 4.6e-6), (0.956, 1.64e-5),
    (0.956, 1.28e-5), (0.965, 7.7e-6), (0.975, 3.95e-6), (0.932, 3.15e-6), (0.998, 2.75e-6),
    (0.989, 2.0e-6), (0.975, 1.5e-6), (0.979, 1.0e-6), (1.013, 3.8e-6), (1.036, 4.9e-6),
    (1.060, 3.8e-6), (1.074, 3.15e-6), (1.098, 1.56e-6), (1.122, 2.6e-6), (1.117, 5.9e-6),
    (1.141, 3.8e-6), (1.169, 3.0e-6), (1.188, 2.3e-6), (1.202, 4.6e-6), (1.217, 3.15e-6),
    (1.236, 2.6e-6), (1.264, 3.6e-6), (1.274, 2.6e-6), (1.288, 2.15e-6), (1.297, 5.0e-6),
    (1.312, 4.6e-6), (1.331, 3.0e-6), (1.354, 3.3e-6), (1.378, 3.15e-6), (1.402, 3.6e-6),
    (1.425, 3.15e-6), (1.449, 2.75e-6), (1.454, 2.0e-6), (1.473, 1.9e-6), (1.497, 2.5e-6),
    (1.501, 1.47e-6), (1.525, 1.29e-6), (1.535, 1.9e-6), (1.549, 1.07e-6), (1.568, 1.22e-6),
    (1.573, 1.39e-6), (1.582, 1.56e-6), (1.606, 2.45e-6), (1.620, 2.15e-6), (1.630, 2.6e-6),
    (1.644, 1.15e-6), (1.663, 1.7e-6), (1.677, 1.9e-6), (1.691, 2.15e-6), (1.710, 1.9e-6),
    (1.724, 2.05e-6), (1.739, 2.05e-6), (1.758, 2.15e-6), (1.772, 2.15e-6), (1.786, 1.95e-6),
    (1.805, 2.0e-6), (1.819, 2.0e-6), (1.834, 2.15e-6), (1.853, 1.92e-6), (1.867, 1.9e-6),
    (1.881, 1.7e-6), (1.900, 1.62e-6), (1.914, 1.7e-6), (1.924, 1.29e-6), (1.938, 1.07e-6),
    (1.948, 9.5e-7), (1.962, 6.9e-7), (1.976, 6.0e-7), (1.971, 4.7e-7), (1.986, 3.8e-7),
    (2.000, 6.0e-7), (2.019, 5.4e-7), (2.024, 7.3e-7), (2.000, 2.55e-7), (0.780, 9.5e-7),
    (0.813, 7.9e-7), (0.818, 7.8e-7), (1.226, 1.0e-6), (1.293, 8.7e-7), (1.549, 1.15e-6),
    (1.644, 1.1e-6), (1.995, 6.5e-7), (1.962, 3.8e-7), (1.995, 3.3e-7), (2.066, 3.8e-7),
    (1.995, 2.45e-7), (2.057, 6.9e-7), (2.090, 7.9e-7), (2.118, 8.4e-7), (2.166, 9.5e-7),
    (0.790, 7.4e-6), (0.823, 9.8e-6), (0.846, 7.0e-6), (0.870, 5.8e-6), (0.908, 3.45e-6),
    (0.941, 3.8e-6), (1.013, 2.85e-6), (1.046, 4.6e-6), (1.084, 2.85e-6), (1.155, 3.45e-6),
    (1.250, 3.0e-6), (1.321, 3.8e-6), (1.369, 2.6e-6), (1.416, 2.85e-6), (1.463, 2.4e-6),
    (1.511, 1.8e-6), (1.558, 1.65e-6), (1.596, 1.85e-6), (1.701, 1.8e-6), (1.748, 2.35e-6),
    (1.796, 1.8e-6), (1.843, 2.35e-6), (1.891, 1.8e-6),
    (1.881, 1.78e-6), (1.914, 1.39e-6), (1.929, 1.07e-6), (1.948, 8.4e-7), (1.976, 5.4e-7),
    (2.024, 4.7e-7), (2.043, 6.9e-7), (2.066, 3.9e-7), (2.080, 5.7e-7), (2.104, 7.3e-7),
    (2.128, 7.9e-7), (2.142, 1.15e-6), (2.199, 1.29e-6), (2.232, 1.15e-6), (2.261, 1.22e-6),
    (2.294, 1.07e-6), (2.308, 1.22e-6), (2.327, 9.5e-7), (2.294, 7.9e-7), (2.356, 6.9e-7),
    (2.379, 5.0e-7), (2.389, 8.4e-7), (2.422, 7.3e-7), (2.451, 6.9e-7), (2.484, 6.5e-7),
    (2.517, 6.9e-7), (2.541, 1.48e-6), (2.541, 1.07e-6), (2.555, 8.4e-7), (2.565, 5.7e-7),
    (2.579, 5.0e-7), (2.593, 4.7e-7), (2.555, 3.2e-7), (2.603, 2.5e-7), (2.612, 1.9e-7),
    (2.650, 3.0e-7), (2.660, 2.5e-7), (2.674, 1.75e-7), (2.660, 1.08e-7), (2.683, 1.08e-7),
    (2.707, 7.8e-8), (2.664, 6.7e-8), (2.697, 5.9e-8), (2.688, 4.3e-8), (2.731, 3.5e-8),
    (2.745, 2.6e-8), (2.688, 2.15e-8), (2.152, 9.2e-7), (2.185, 1.1e-6), (2.213, 1.0e-6),
    (2.247, 9.7e-7), (2.280, 1.1e-6), (2.341, 9.2e-7), (2.365, 8.0e-7), (2.403, 7.6e-7),
    (2.436, 6.3e-7), (2.470, 7.1e-7), (2.498, 5.9e-7),
    (2.664, 2.1e-7), (2.769, 3.7e-8), (2.783, 2.3e-8), (2.769, 6.2e-8), (2.792, 6.1e-8),
    (2.864, 5.5e-8), (2.873, 8.3e-8), (2.854, 1.04e-7), (2.944, 6.2e-8), (2.949, 7.8e-8),
    (2.968, 3.2e-8), (3.020, 3.9e-8), (3.044, 4.2e-8), (2.911, 1.1e-8), (2.925, 1.07e-8),
    (3.039, 7.4e-8), (3.020, 9.4e-8), (3.053, 8.6e-8), (3.091, 8.1e-8), (3.101, 2.15e-8),
    (3.134, 2.1e-8), (3.077, 1.08e-7), (3.115, 1.08e-7), (3.087, 1.8e-7), (3.101, 1.46e-7),
    (3.077, 2.2e-7), (3.039, 1.9e-7), (3.030, 2.2e-7), (3.110, 3.35e-7), (3.148, 3.05e-7),
    (3.181, 3.35e-7), (3.186, 2.7e-7), (3.196, 2.2e-7), (3.258, 2.15e-7), (3.267, 8.9e-8),
    (3.196, 5.1e-8), (3.229, 4.9e-8), (3.258, 4.4e-8), (3.281, 4.4e-8), (3.243, 3.7e-8),
    (3.314, 1.1e-7), (3.324, 1.2e-7), (3.329, 2.6e-7), (3.352, 4.3e-7), (3.372, 4.7e-7),
    (3.376, 5.5e-7), (3.372, 2.8e-7), (3.400, 2.6e-7), (3.338, 2.2e-7), (3.372, 2.1e-7),
    (3.400, 2.1e-7), (3.419, 1.85e-7), (3.409, 1.6e-7), (3.419, 1.32e-7), (3.424, 1.3e-7),
    (3.443, 2.45e-7), (3.481, 2.35e-7), (3.471, 3.9e-7), (3.471, 3.2e-7), (3.490, 2.0e-7),
    (3.495, 1.6e-7), (3.537, 2.15e-7), (3.490, 1.1e-7), (3.490, 9.1e-8), (3.514, 1.1e-7),
    (3.537, 1.1e-7), (3.362, 7.5e-8), (3.419, 7.1e-8), (3.514, 7.1e-8), (3.528, 6.7e-8),
    (3.447, 3.5e-8), (3.466, 2.9e-8), (3.518, 3.5e-8), (3.566, 1.26e-7), (3.575, 1.1e-7),
    (3.585, 5.1e-8), (3.590, 5.8e-8), (3.613, 4.6e-8), (3.637, 2.75e-8), (3.609, 1.32e-7),
    (3.613, 2.2e-7), (3.623, 2.85e-7), (3.656, 2.6e-7), (3.661, 3.05e-7), (3.661, 5.4e-7),
    (3.670, 4.7e-7), (3.680, 4.1e-7), (3.685, 3.7e-7), (3.741, 4.4e-7), (3.751, 3.9e-7),
    (3.780, 5.4e-7), (3.741, 3.05e-7), (3.756, 1.95e-7), (3.789, 1.95e-7), (3.827, 1.6e-7),
    (3.822, 2.15e-7), (3.803, 2.7e-7), (3.846, 2.8e-7), (3.860, 2.55e-7), (3.851, 2.4e-7),
    (3.893, 2.85e-7), (3.884, 2.2e-7), (3.908, 2.55e-7), (3.922, 2.2e-7), (3.941, 2.35e-7),
    (3.893, 1.75e-7), (3.908, 1.85e-7), (3.846, 1.18e-7), (3.893, 1.14e-7), (3.874, 1.04e-7),
    (3.908, 1.2e-7), (3.917, 1.67e-7), (3.965, 2.2e-7), (3.979, 1.95e-7), (3.988, 3.4e-7),
    (3.988, 3.05e-7), (3.993, 1.44e-7), (3.756, 9.1e-8), (3.799, 2.3e-8), (3.860, 2.65e-8),
    (3.898, 2.2e-8), (3.946, 4.2e-8), (3.965, 4.0e-8), (3.965, 3.0e-8), (3.969, 2.85e-8),
    (3.993, 5.55e-8), (4.003, 5.05e-8), (4.026, 5.65e-8), (4.041, 7.1e-8), (4.064, 4.6e-8),
    (4.088, 7.5e-8), (4.112, 7.5e-8), (4.131, 4.2e-8), (4.088, 5.9e-8), (4.036, 2.1e-7),
    (4.050, 1.5e-7), (4.083, 2.2e-7), (4.088, 1.26e-7), (4.098, 1.95e-7), (4.107, 2.6e-7),
    (4.074, 2.85e-7), (4.112, 3.05e-7), (3.780, 8.8e-7),
    (4.074, 4.1e-7), (4.145, 2.85e-7), (4.202, 2.95e-7), (4.155, 5.9e-7), (4.178, 5.4e-7),
    (4.207, 4.1e-7), (4.226, 3.3e-7), (4.240, 4.7e-7), (4.240, 3.7e-7), (4.250, 2.85e-7),
    (4.264, 2.8e-7), (4.297, 2.2e-7), (4.159, 4.3e-7), (4.193, 2.75e-6), (4.226, 2.15e-6),
    (4.145, 1.85e-7), (4.135, 1.6e-7), (4.193, 1.9e-7), (4.098, 1.14e-7), (4.045, 7.1e-8),
    (4.098, 7.6e-8), (4.131, 7.6e-8), (4.145, 4.7e-8), (4.264, 2.15e-8), (4.278, 1.8e-8),
    (4.297, 6.1e-8), (4.216, 1.04e-5), (4.212, 7.4e-6), (4.183, 3.8e-6), (4.188, 2.8e-6),
    (4.216, 2.25e-6),
]

PALLENE_2 = [
    (0.718, 2.8e-6), (0.799, 2.2e-6), (0.808, 4.4e-6), (0.832, 5.35e-6), (0.880, 5.35e-6),
    (0.870, 4.2e-6), (0.908, 5.8e-6), (0.927, 2.3e-6), (0.965, 5.25e-6), (0.979, 4.6e-6),
    (1.022, 5.8e-6), (1.036, 2.45e-6), (1.051, 1.8e-6), (1.074, 1.85e-6), (1.093, 3.3e-6),
    (1.131, 2.0e-6), (1.141, 1.9e-6), (1.155, 3.15e-6), (1.188, 3.3e-6), (1.212, 2.0e-6),
    (1.236, 1.7e-6), (1.250, 4.9e-6), (1.274, 3.15e-6), (1.297, 3.8e-6), (1.312, 5.8e-6),
    (1.331, 1.7e-6), (1.345, 1.62e-6), (1.359, 3.15e-6), (1.392, 2.3e-6), (1.425, 2.6e-6),
    (1.454, 2.3e-6), (1.478, 1.9e-6), (1.501, 1.15e-6), (1.525, 2.5e-6), (1.535, 1.47e-6),
    (1.568, 2.0e-6), (1.592, 8.8e-7), (1.620, 2.6e-6), (1.644, 3.0e-6), (1.691, 2.3e-6),
    (1.739, 2.3e-6), (1.758, 2.6e-6), (1.781, 3.15e-6), (1.786, 1.7e-6), (1.819, 1.9e-6),
    (1.853, 1.7e-6), (1.881, 1.35e-6), (1.905, 1.07e-6), (1.929, 1.0e-6), (1.976, 6.0e-7),
    (1.995, 5.2e-7), (2.009, 5.0e-7), (2.033, 5.5e-7), (2.019, 2.35e-7), (0.894, 1.29e-6),
    (1.046, 8.8e-7), (1.108, 8.8e-7), (0.742, 6.9e-7), (0.785, 4.1e-7), (0.880, 7.9e-7),
    (0.979, 4.3e-7), (0.823, 1.86e-7), (0.704, 4.5e-8), (0.832, 4.9e-8), (1.112, 2.25e-7),
    (1.041, 8.8e-7), (1.596, 6.8e-7), (1.639, 6.2e-7), (1.644, 4.9e-7), (1.497, 1.11e-6),
    (0.752, 5.5e-6), (0.775, 3.8e-6), (0.846, 3.15e-6), (0.941, 2.85e-6), (1.003, 3.8e-6),
    (1.070, 4.1e-6), (1.178, 5.0e-6), (1.226, 2.6e-6), (1.288, 4.4e-6), (1.378, 3.7e-6),
    (1.416, 1.8e-6), (1.558, 2.6e-6), (1.668, 1.8e-6), (1.715, 1.95e-6), (1.805, 2.15e-6),
    (1.858, 2.15e-6),
    (1.834, 2.3e-6), (1.900, 1.39e-6), (1.948, 5.0e-7), (2.043, 9.7e-7), (2.057, 7.9e-7),
    (2.104, 8.8e-7), (2.137, 7.3e-7), (2.185, 6.0e-7), (2.199, 8.4e-7), (2.232, 1.39e-6),
    (2.261, 1.47e-6), (2.327, 1.39e-6), (2.327, 6.0e-7), (2.375, 9.5e-7), (2.422, 8.4e-7),
    (2.451, 9.5e-7), (2.484, 1.0e-6), (2.517, 5.0e-7), (2.531, 6.0e-7), (2.593, 4.5e-7),
    (2.626, 6.0e-7), (2.641, 3.9e-7), (2.683, 6.0e-7), (2.697, 7.3e-7), (2.707, 4.1e-7),
    (2.707, 2.85e-7), (2.660, 2.2e-7), (2.674, 2.7e-7), (2.735, 1.6e-7), (2.721, 1.3e-7),
    (2.612, 1.0e-7), (2.250, 1.2e-6), (2.290, 1.3e-6), (2.160, 9.5e-7),
    (2.697, 6.3e-7), (2.688, 5.2e-7), (2.650, 5.4e-7), (2.707, 3.9e-7), (2.745, 3.2e-7),
    (2.674, 3.05e-7), (2.754, 1.32e-7), (2.721, 1.26e-7), (2.807, 7.1e-8), (2.826, 6.2e-8),
    (2.816, 3.0e-8), (2.830, 2.75e-8), (2.854, 2.6e-8), (2.887, 3.9e-8), (2.873, 3.5e-8),
    (2.935, 5.35e-8), (2.887, 1.64e-8), (2.925, 1.36e-8), (2.807, 1.5e-8), (3.030, 3.0e-8),
    (3.110, 5.8e-6), (3.115, 9.7e-7), (3.139, 1.22e-6), (3.139, 2.35e-7), (3.006, 2.45e-7),
    (2.878, 3.9e-7), (3.281, 1.85e-7), (3.314, 2.6e-7), (3.424, 3.1e-7), (3.457, 2.15e-7),
    (3.243, 2.3e-8), (3.277, 2.45e-8), (3.348, 4.7e-8), (3.352, 3.25e-8), (3.348, 1.75e-8),
    (3.447, 6.5e-8), (3.528, 4.3e-8), (3.490, 3.7e-8), (3.575, 5.5e-6), (3.585, 3.15e-6),
    (3.575, 2.45e-6), (3.253, 7.4e-8), (3.120, 1.13e-4), (3.115, 1.01e-4), (3.125, 6.6e-5),
    (4.985, 2.75e-6), (4.966, 1.7e-6), (4.985, 1.56e-6), (4.966, 1.07e-6), (4.952, 4.7e-7),
    (4.943, 4.3e-7), (4.976, 4.3e-7), (4.847, 3.75e-7), (4.881, 3.55e-7), (4.914, 2.3e-7),
    (4.938, 2.15e-7), (4.819, 2.1e-7), (4.881, 1.7e-7), (4.952, 2.7e-7), (4.985, 5.05e-8),
    (4.985, 1.75e-8),
]

SERIES = [
    ("Epimetheus dither 1", EPIMETHEUS_1, "#0000ff"),
    ("Epimetheus dither 2", EPIMETHEUS_2, "#00bfbf"),
    ("Pandora dither 1", PANDORA_1, "#008000"),
    ("Telesto dither 1", TELESTO_1, "#ff0000"),
    ("Telesto dither 2", TELESTO_2, "#bf00bf"),
    ("Pallene dither 1", PALLENE_1, "#000000"),
    ("Pallene dither 2", PALLENE_2, "#808080"),
]

X_TICKS = [0.5, 1.0, 1.5, 2.0, 2.5, 3.0, 3.5, 4.0, 4.5, 5.0]

fig = go.Figure()
for name, pts, color in SERIES:
    wl = [p[0] for p in pts]
    fx = [p[1] for p in pts]
    fig.add_trace(go.Scatter(
        x=wl, y=fx, mode="markers", name=name, legendgroup=name,
        marker=dict(color=color, size=7, line=dict(width=0)),
    ))

grid = "#cccccc"
frame = "#bdbdbd"
fig.update_layout(
    width=1061, height=753,
    margin=dict(l=92, r=21, t=1, b=59),
    plot_bgcolor="white", paper_bgcolor="white",
    font=dict(family="DejaVu Sans", color="#000000"),
    showlegend=True,
    legend=dict(
        x=0.012, y=0.0145, xanchor="left", yanchor="bottom",
        bgcolor="rgba(255,255,255,0.8)", bordercolor="#d5d5d5", borderwidth=1,
        font=dict(size=20, color="#000000"), itemsizing="trace", itemwidth=54,
        tracegroupgap=1.5,
    ),
    xaxis=dict(
        range=[0.5, 5.0], tickvals=X_TICKS, ticktext=[f"{v:.1f}" for v in X_TICKS],
        showgrid=True, gridcolor=grid, gridwidth=1, zeroline=False,
        showline=True, linecolor=frame, linewidth=1, mirror=True, ticks="",
        tickfont=dict(size=19, color="#555555"),
        title=dict(text="Wavelength (microns)", font=dict(size=24, color="#000000"), standoff=6),
    ),
    yaxis=dict(
        type="log", range=[-8, -2.297], dtick=1, exponentformat="power", showexponent="all",
        showgrid=True, gridcolor=grid, gridwidth=1, zeroline=False,
        showline=True, linecolor=frame, linewidth=1, mirror=True, ticks="",
        tickfont=dict(size=18, color="#555555"),
        title=dict(text="Flux (Jy)", font=dict(size=24, color="#000000"), standoff=8),
    ),
)

fig.write_html("out.html", config={"displayModeBar": False})
